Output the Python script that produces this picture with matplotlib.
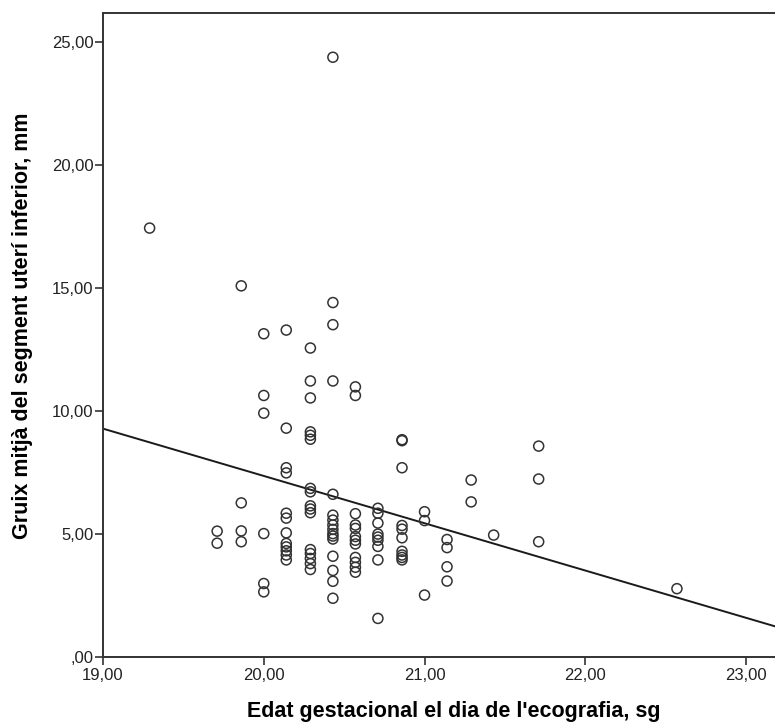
import matplotlib
matplotlib.use('Agg')
import matplotlib.pyplot as plt
from matplotlib.ticker import FuncFormatter
import numpy as np

plt.rcParams['font.family'] = ['Liberation Sans', 'DejaVu Sans']

# edat gestacional (setmanes) i gruix del segment (mm), llegits de la figura
edat = (
    [19.29]
    + [19.71] * 2
    + [19.86] * 4
    + [20.00] * 6
    + [20.14] * 12
    + [20.29] * 16
    + [20.43] * 16
    + [20.57] * 12
    + [20.71] * 9
    + [20.86] * 10
    + [21.00] * 3
    + [21.14] * 4
    + [21.29] * 2
    + [21.43]
    + [21.71] * 3
    + [22.57]
)
gruix = [
    17.45,
    5.12, 4.63,
    15.10, 6.27, 5.13, 4.69,
    13.15, 10.64, 9.92, 5.02, 2.99, 2.65,
    13.30, 9.31, 7.70, 7.49, 5.85, 5.65, 5.05, 4.62, 4.48, 4.32, 4.15, 3.95,
    12.57, 11.23, 10.54, 9.16, 9.02, 8.86, 6.86, 6.72, 6.15, 6.02, 5.87,
    4.37, 4.21, 4.01, 3.56, 3.80,
    24.40, 14.42, 13.52, 11.23, 6.62, 5.77, 5.57, 5.37, 5.19, 5.02, 4.80,
    4.10, 3.52, 3.08, 2.39, 4.92,
    10.99, 10.64, 5.83, 5.37, 5.23, 4.90, 4.75, 4.60, 4.05, 3.85, 3.65, 3.45,
    6.05, 5.85, 5.45, 5.00, 4.88, 4.75, 4.50, 3.95, 1.57,
    8.84, 8.80, 7.70, 5.35, 5.20, 4.85, 4.30, 4.15, 4.05, 3.95,
    5.91, 5.55, 2.52,
    4.78, 4.45, 3.67, 3.09,
    7.20, 6.31,
    4.96,
    8.58, 7.24, 4.69,
    2.78,
]

# recta de regressió llegida de la figura
intercept_19 = 9.29
pendent = -1.924

fig = plt.figure(figsize=(7.75, 7.28), dpi=100)
ax = fig.add_axes([103 / 775, 71 / 728, 1 - 103 / 775, (715 - 71) / 728])

ax.scatter(edat, gruix, s=52, facecolors='none', edgecolors='#333333', linewidths=1.1, zorder=3)

xl = np.array([19.0, 23.2])
ax.plot(xl, intercept_19 + pendent * (xl - 19.0), color='#1a1a1a', lw=1.4, zorder=2)

ax.set_xlim(19.0, 23.18)
ax.set_ylim(0, 26.2)
ax.set_xticks([19, 20, 21, 22, 23])
ax.set_yticks([0, 5, 10, 15, 20, 25])

def coma(v, pos):
    s = '%.2f' % v
    s = s.replace('.', ',')
    if s.startswith('0'):
        s = s[1:]
    return s

ax.xaxis.set_major_formatter(FuncFormatter(coma))
ax.yaxis.set_major_formatter(FuncFormatter(coma))
ax.tick_params(direction='out', length=5.5, width=1.2, color='#333333', labelsize=12, labelcolor='#222222')
ax.tick_params(axis='y', pad=1.5)
ax.tick_params(axis='x', pad=2.5)

for side in ['left', 'bottom', 'top']:
    ax.spines[side].set_color('#333333')
    ax.spines[side].set_linewidth(1.4)
ax.spines['right'].set_visible(False)

ax.set_xlabel("Edat gestacional el dia de l'ecografia, sg", fontsize=15.5, fontweight='bold')
ax.set_ylabel('Gruix mitjà del segment uterí inferior, mm', fontsize=15.5, fontweight='bold')
ax.xaxis.set_label_coords(0.522, -0.068)
ax.yaxis.set_label_coords(-0.104, 0.515)

plt.savefig('out.png', dpi=100)
